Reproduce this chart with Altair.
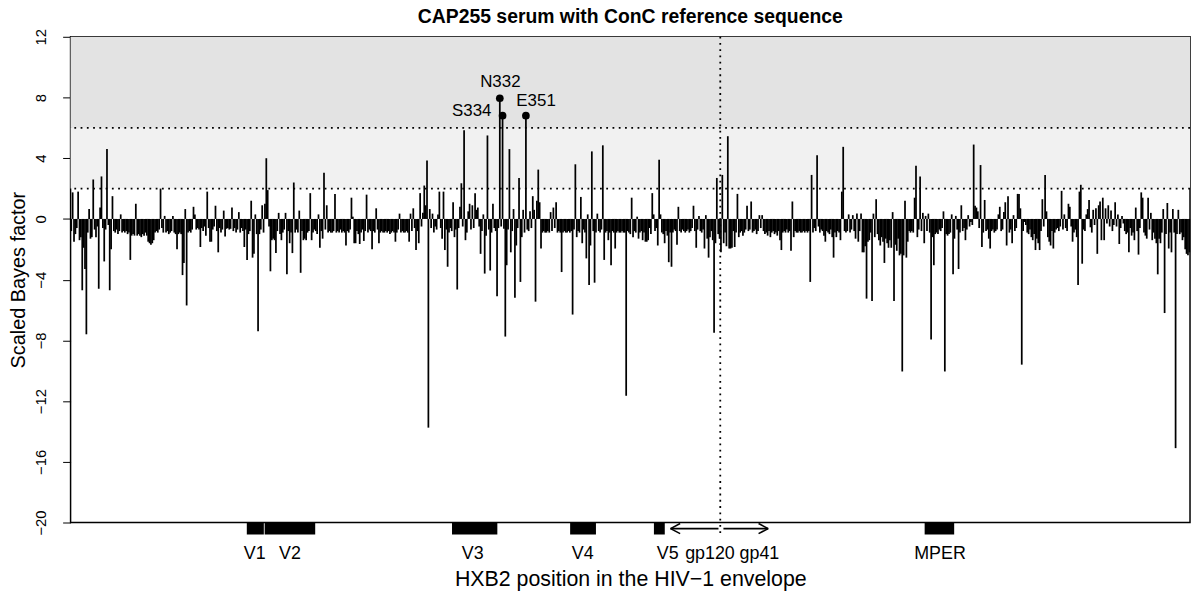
import altair as alt
import pandas as pd

# Scaled Bayes factor per aligned envelope position
seg1 = [-0.8, 1.75, -1.5, -1.0, -0.6, 1.8, -1.4, -1.2, -4.7, -1.9, -3.3, -7.6, -0.9, 0.65, -1.3, -1.2, 2.6, -0.7, -1.2, -0.5,
        -4.6, 0.75, 2.8, -0.6, -2.8, -0.7, 4.6, -0.4, -4.7, -2.0, 1.5, -0.8, -0.9, -0.7, -1.0, -0.8, 0.3, -0.9, -0.8, -0.9,
        -0.8, -1.0, -0.9, -2.7, -1.1, -1.0, -1.1, 1.0, -1.1, -1.0, -1.1, -1.2, -1.0, -1.1, -0.9, -1.1, -1.5, -1.6, -1.7, -1.6,
        -1.4, -0.9, -0.8, -0.9, -0.7, 2.0, -0.6, -0.9, 0.2, -0.9, -0.8, -1.0, -0.9, -0.8, 0.2, -0.9, -1.0, -2.0, -1.0, -0.9,
        -1.0, -3.7, -2.9, 0.65, -5.7, -0.9, -0.8, -0.9, -0.7, 0.8, 0.3, -0.7, -0.6, -0.7, -1.85, -0.6, -0.8, -0.5, -1.1, 1.8]
seg2 = [-0.6, -1.5, -1.5, -0.7, -0.5, 0.87, -0.8, -2.2, -0.6, -0.9, -0.7, 0.55, -1.15, -0.65, -0.6, -0.7, -0.65, 0.75, -0.8, -0.6,
        -0.9, -0.7, 0.45, -0.9, -0.6, -0.8, -1.85, -0.7, -2.7, -1.0, -0.8, 1.2, -2.55, -2.3, 0.3, -1.0, -7.4, -1.0, -0.7, 0.9,
        -0.9, 1.0, 4.0, 1.9, -0.5, -3.45, -1.4, -1.3, -1.4, -2.25, -0.8, 0.4, -1.0, -1.4, -0.9, -0.7, 0.4, -3.65, -0.8, -1.6,
        -0.9, -2.25, 2.4, -0.9, -0.7, -0.9, 0.55, -3.55, -0.8, -1.4, -1.3, -1.4, -0.9, -0.8, 1.7, -1.4, -0.9, -0.7, -0.8, -1.0,
        0.3, -1.9, -0.8, -1.3, 3.05, -0.7, 0.9, -0.9, -0.8, -0.9, -0.9, -0.8, 1.65, -0.9, -0.8, -0.9, -0.7, -0.9, -0.8, -0.9]
seg3 = [-1.75, -0.8, -0.9, -0.7, 1.4, 0.15, -1.6, -1.6, -0.8, -1.0, -1.65, -0.9, -0.7, -1.45, -0.8, 1.6, -0.9, -0.7, -0.8, -2.0,
        -0.8, -0.9, 0.7, -0.7, -1.6, -0.9, -0.8, -0.9, -0.9, -0.8, -0.9, -0.8, -1.0, -0.9, -0.8, -0.9, -1.5, -0.9, -0.7, 0.35,
        -0.9, -0.8, -0.9, -0.9, -0.8, -0.9, -1.5, 0.35, -0.8, 0.7, -0.6, -2.05, -0.8, -1.6, 1.7, -0.5, 0.4, 2.2, 0.9, 3.85,
        -13.75, 0.65, -0.6, 0.35, -0.9, -0.5, -0.7, 0.3, 1.8, -0.6, -1.3, 1.8, -2.05, -0.7, -3.15, -0.9, -0.6, -0.8, 1.1, -1.2,
        -0.7, -4.65, -0.6, 0.8, 2.35, -0.5, 5.85, -1.4, -0.9, 0.5, 1.0, -0.7, 0.9, -0.6, 1.7, 0.6, 0.75, -0.5, -2.3, -0.8]
seg4 = [0.3, -3.6, -1.1, 5.5, -0.7, -3.4, -0.9, 1.0, -0.6, -0.8, -5.1, -0.6, 7.95, -0.5, 6.8, -0.65, -7.75, -3.05, -0.7, 4.6,
        -2.2, -0.8, 0.65, -5.2, -1.75, -0.6, 2.7, -4.15, -1.2, 0.6, -0.9, 6.8, -0.7, -0.8, 0.5, -0.6, 1.5, 0.6, -5.45, 1.2,
        3.25, 1.1, -1.95, -0.9, -0.8, -0.9, -0.9, -0.8, -0.9, 0.45, -0.8, 0.75, -0.6, 1.1, -0.9, -0.8, -0.9, -3.5, -0.9, -0.8,
        -0.9, -0.9, -0.8, -0.9, -0.8, -6.3, -0.7, 3.6, -1.2, -0.8, -0.9, 1.45, -1.6, -0.7, -0.9, -2.6, 0.3, -4.35, -1.75, 4.45,
        -0.8, -4.2, -0.9, 0.35, -0.8, -0.9, -0.7, 4.85, -2.7, -0.9, -0.8, -1.4, -0.9, -3.05, -0.8, -0.9, -1.95, -0.9, -0.8, -0.9]
seg5 = [-0.9, -0.8, -0.9, -0.9, -11.65, -0.8, -0.9, -1.0, 1.4, -1.2, -0.8, -0.9, 0.15, -1.3, -0.9, -0.8, -1.4, -0.9, -1.5, -1.5,
        -1.4, -0.6, -1.0, 1.7, 0.3, -0.8, -0.6, -1.75, 3.9, 0.3, -0.9, -1.0, -1.6, -0.8, -1.1, -2.85, -0.9, -3.15, -0.9, -0.7,
        -0.8, -1.7, 0.8, -0.8, -0.9, -0.7, -0.8, -0.9, -0.8, -0.7, -0.9, -0.8, -0.6, 0.87, -0.8, -1.9, -0.7, 0.2, -0.8, -0.9,
        -0.7, -1.95, 0.25, -1.3, -2.55, -1.2, -0.8, -1.4, -7.5, -1.6, 2.7, -1.0, -1.3, -2.2, 2.9, -1.6, -0.9, -1.8, 5.45, -1.95,
        -1.95, -1.9, -0.8, -1.85, -0.9, 1.65, -1.2, -0.9, -0.8, -1.1, -0.9, -0.7, 0.87, -0.8, -0.7, 1.15, -0.9, -0.8, -0.7, -1.0]
seg6 = [-0.8, 0.25, -0.6, 0.25, -0.8, -1.0, -0.9, -1.1, -0.8, -1.2, -0.9, -0.8, -1.0, -0.9, -1.1, -0.8, -1.4, -2.05, -0.9, -0.8,
        -0.9, -0.7, -0.9, -0.8, -2.1, 1.15, -1.2, -0.8, -0.9, -0.9, -0.8, -0.9, -0.9, -0.8, -0.9, -0.8, -0.9, -0.8, -4.15, 2.9,
        -0.9, -0.6, -0.8, 4.2, -0.5, -0.9, -0.7, -0.8, -1.1, -1.5, -0.8, -0.9, -1.0, -0.7, -1.2, -2.55, -0.9, -1.2, -0.8, -0.9,
        -1.4, 1.8, 4.75, -0.8, -0.9, -0.8, 0.3, -0.9, -0.7, 0.25, -0.8, -1.3, 0.35, -1.5, -0.8, 0.35, -2.2, -2.2, -1.8, -5.25,
        -1.5, -1.4, -0.9, -5.4, 0.35, -1.2, 1.3, -1.0, -1.4, -1.75, -1.2, -1.5, -2.9, -1.3, -1.6, -1.9, -1.4, -1.9, 0.45, -5.4]
seg7 = [-1.7, -2.1, -1.3, -2.4, -2.3, -10.05, -2.4, 1.2, -2.55, -1.5, -0.8, -0.9, -0.8, -0.9, 1.4, 3.5, -1.2, -0.7, 2.8, -0.8,
        0.4, -1.6, 0.2, -0.8, 0.35, -0.9, -7.95, -1.2, -3.05, -1.0, -0.9, -1.0, -0.7, -0.8, -0.6, 0.5, -10.05, -1.0, -1.1, -1.0,
        -0.9, 0.3, -3.65, -1.3, 0.2, -0.7, -3.3, -0.9, 0.9, -0.8, -0.6, -1.4, -0.7, 0.25, -0.5, -0.2, -0.4, 4.9, 0.87, 0.75,
        0.5, -0.6, 3.55, -1.85, -0.9, 1.25, -0.8, -0.7, -1.3, -1.95, -0.8, -0.7, -0.9, -0.8, -0.7, 0.3, 0.8, -0.8, -0.7, 0.45,
        1.1, -1.75, 1.5, -0.9, -0.7, -1.6, 0.25, -0.8, -0.6, 1.65, 1.65, 0.7, -9.6, -0.8, -0.2, -0.4, -0.9, -1.0, -0.7, -1.2]
seg8 = [-1.4, -1.0, -2.05, -1.3, -1.6, -2.05, -0.8, 1.3, -0.5, 2.9, 0.5, -1.2, -1.5, -1.75, -0.8, -1.95, -0.9, -0.7, -0.6, -0.8,
        -0.5, 1.85, -0.7, 0.3, -0.6, -0.8, 1.0, 0.8, -0.5, -1.5, -0.9, -0.7, -1.2, -4.35, 1.8, 2.25, -2.95, -0.7, -0.8, 0.3,
        0.65, 1.25, -0.55, -0.9, 0.6, -0.4, 0.7, -2.3, 0.9, 1.15, -1.4, 1.4, -1.4, 0.7, -0.3, 0.9, -0.5, 0.55, -0.8, -0.4,
        1.1, -0.5, 0.3, -1.65, -0.6, 0.2, -0.3, -0.8, -1.0, -0.9, -2.2, -0.6, -1.1, -0.9, -1.4, 0.75, -0.8, -2.35, -0.6, 1.75,
        1.4, -0.9, -1.1, -1.3, 1.4, -0.7, 0.4, -1.4, -0.9, -1.3, -1.6, -3.65, -1.3, -1.6, -0.9, 0.65, -6.2, -1.0, 1.05, -1.95]
seg9 = [-0.9, -2.2, 0.65, -0.9, -15.1, -1.0, 0.6, -1.0, -0.9, -1.4, -1.2, -2.0, -2.3, -2.4, -2.2]

values = seg1 + seg2 + seg3 + seg4 + seg5 + seg6 + seg7 + seg8 + seg9
positions = list(range(1, len(values) + 1))

# evidence bands and thresholds
band_lo = [2, 6]
band_hi = [6, 12]
band_color = ["#f1f1f1", "#e3e3e3"]
thresholds = [2, 6]

# highlighted sites
site_names = ["N332", "S334", "E351"]
site_pos = [313, 315, 332]
site_val = [7.95, 6.8, 6.8]
site_label_x = [313.4, 292.6, 339.4]
site_label_y = [9.0, 7.1, 7.75]

# envelope regions (aligned position units)
region_names = ["V1", "V2", "V3", "V4", "V5", "MPER"]
region_start = [128.8, 141.8, 278.2, 364.2, 425.2, 622.3]
region_end = [141.2, 178.6, 311.2, 383.0, 433.1, 643.8]
label_text = ["V1", "V2", "V3", "V4", "V5", "gp120", "gp41", "MPER"]
label_pos = [134.6, 160.2, 293.3, 373.4, 435.3, 466.0, 502.0, 633.5]
boundary = 473.5

# gp120 / gp41 arrows
arrow_x = [472.2, 475.8, 437.3, 437.3, 508.4, 508.4]
arrow_x2 = [437.3, 508.4, 444.3, 444.3, 501.4, 501.4]
arrow_y = [-20.4, -20.4, -20.4, -20.4, -20.4, -20.4]
arrow_y2 = [-20.4, -20.4, -20.07, -20.73, -20.07, -20.73]

N = len(values)
FONT = "Liberation Sans"
xs = alt.Scale(domain=[0.5, N + 0.5], nice=False, zero=False)
ys = alt.Scale(domain=[-20, 12], nice=False, zero=False)
xaxis = alt.Axis(labels=False, ticks=False, domain=False, grid=False,
                 title="HXB2 position in the HIV\u22121 envelope", titleFontSize=21.5,
                 titleFontWeight="normal", titleFont=FONT, titleColor="black", titlePadding=46)
yaxis = alt.Axis(values=[-20, -16, -12, -8, -4, 0, 4, 8, 12], grid=False, domain=False,
                 tickSize=8, tickColor="black", tickWidth=1, labelAngle=270, labelFontSize=15,
                 labelFont=FONT, labelColor="black", labelPadding=14,
                 title="Scaled Bayes factor", titleFontSize=20, titleFont=FONT,
                 titleFontWeight="normal", titleColor="black", titlePadding=5)


def X(f):
    return alt.X(f, type="quantitative", scale=xs, axis=xaxis)


def Y(f):
    return alt.Y(f, type="quantitative", scale=ys, axis=yaxis)


bars_df = pd.DataFrame({"pos": positions, "bf": values})
bands_df = pd.DataFrame({"lo": band_lo, "hi": band_hi, "c": band_color,
                         "x0": [0.5, 0.5], "x1": [N + 0.5, N + 0.5]})
thr_df = pd.DataFrame({"t": thresholds})
sites_df = pd.DataFrame({"name": site_names, "pos": site_pos, "val": site_val,
                         "lx": site_label_x, "ly": site_label_y})
reg_df = pd.DataFrame({"name": region_names, "s": region_start, "e": region_end,
                       "top": [-20.0] * 6, "bot": [-20.79] * 6})
lab_df = pd.DataFrame({"t": label_text, "x": label_pos, "y": [-22.1] * len(label_text)})
arr_df = pd.DataFrame({"x": arrow_x, "x2": arrow_x2, "y": arrow_y, "y2": arrow_y2})
vl_df = pd.DataFrame({"x": [boundary], "y": [12.0], "y2": [-20.8]})

bands = alt.Chart(bands_df).mark_rect().encode(
    x=X("x0"), x2="x1", y=Y("lo"), y2="hi",
    color=alt.Color("c:N", scale=None))

thr = alt.Chart(thr_df).mark_rule(color="black", strokeWidth=1.8, strokeDash=[1.8, 4.5]).encode(
    y=Y("t"))

bars = alt.Chart(bars_df).mark_rule(color="#000000", strokeWidth=1.75).encode(
    x=X("pos"), y=Y("bf"), y2=alt.datum(0))

vline = alt.Chart(vl_df).mark_rule(color="black", strokeWidth=1.8, strokeDash=[1.8, 4.5]).encode(
    x=X("x"), y=Y("y"), y2="y2")

dots = alt.Chart(sites_df).mark_point(filled=True, color="black", size=60, opacity=1).encode(
    x=X("pos"), y=Y("val"))

site_labels = alt.Chart(sites_df).mark_text(font=FONT, fontSize=17, color="black").encode(
    x=X("lx"), y=Y("ly"), text="name:N")

regions = alt.Chart(reg_df).mark_rect(color="black").encode(
    x=X("s"), x2="e", y=Y("top"), y2="bot")

region_labels = alt.Chart(lab_df).mark_text(font=FONT, fontSize=18, color="black").encode(
    x=X("x"), y=Y("y"), text="t:N")

arrows = alt.Chart(arr_df).mark_rule(color="black", strokeWidth=1.6).encode(
    x=X("x"), x2="x2", y=Y("y"), y2="y2")

chart = alt.layer(
    bands, thr, bars, vline, dots, site_labels, regions, region_labels, arrows
).properties(
    width=1127, height=489,
    padding={"left": 63, "top": 27, "right": 2, "bottom": 72},
    autosize=alt.AutoSizeParams(type="none"),
    title=alt.TitleParams("CAP255 serum with ConC reference sequence", fontSize=19.5,
                          fontWeight="bold", font=FONT, anchor="middle", frame="group",
                          offset=1, color="black"),
).configure_view(stroke="black", strokeWidth=1.5)

chart.save("out.html", embed_options={"renderer": "svg", "actions": False})
